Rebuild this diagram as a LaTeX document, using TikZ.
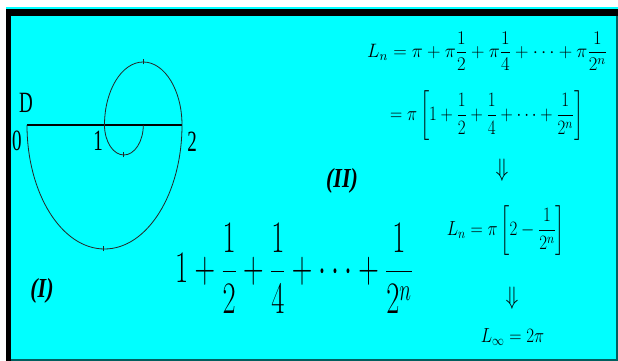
\RequirePackage{fix-cm}
\documentclass[tikz,border=0pt]{standalone}
\usepackage{fontspec}
\setmainfont{Liberation Serif}
\usepackage{amsmath}
\usepackage{tikz}
\usetikzlibrary{calc}

\definecolor{aqua}{RGB}{0,255,255}
\definecolor{edge}{RGB}{0,95,95}

\tikzset{
    lbl/.style={font=\fontsize{19}{19}\selectfont, inner sep=0pt, yscale=1.55, transform shape},
    tag/.style={font=\fontsize{22}{22}\selectfont\bfseries\itshape, inner sep=0pt, yscale=1.25, transform shape},
    eq/.style={font=\fontsize{17}{17}\selectfont, inner sep=0pt, yscale=1.2, transform shape},
    series/.style={font=\fontsize{28.5}{28.5}\selectfont, inner sep=0pt, yscale=1.58, transform shape},
}

\begin{document}
\begin{tikzpicture}[x=1pt, y=1pt]
    \fill[white] (0,0) rectangle (618,361);
    \fill[aqua] (6,0) rectangle (618,354);
    \fill[black] (6,345) rectangle (618,352);
    \fill[black] (6,0) rectangle (11,352);
    \draw[edge, line width=1.5pt] (11,1) -- (617,1) -- (617,345);

    \draw[line width=1.2pt] (27,236) coordinate(zero) -- (182,236) coordinate(two);
    \draw[black!85, line width=0.8pt] (zero)
	arc[start angle=180, end angle=360, x radius=77.5, y radius=124]
	arc[start angle=0, end angle=180, x radius=38.75, y radius=63]
	arc[start angle=180, end angle=360, x radius=19.4, y radius=30];
    \foreach \x/\y in {103/112, 143/299, 123/206}
	\draw[black!85, line width=0.8pt] (\x,\y-2.5) -- (\x,\y+2.5);

    \node[lbl] (d) at (26,258) {D};
    \node[lbl] (n0) at (17,220) {0};
    \node[lbl] (n1) at (98,220) {1};
    \node[lbl] (n2) at (192,219) {2};

    \node[tag] (t2) at (342,180) {(II)};
    \node[tag] (t1) at (42,70) {(I)};

    \node[series] (sum) at (294,92.5) {$\displaystyle 1+\frac{1}{2}+\frac{1}{4}+\cdots+\frac{1}{2^n}$};

    \node[eq, anchor=west, xscale=1.1, yscale=0.95] (ln) at (367,310) {$\displaystyle L_n = \pi + \pi\frac{1}{2} + \pi\frac{1}{4} + \cdots + \pi\frac{1}{2^n}$};
    \node[eq, anchor=west] (lnb) at (390,245.5) {$\displaystyle = \pi\left[1 + \frac{1}{2} + \frac{1}{4} + \cdots + \frac{1}{2^n}\right]$};
    \node[eq, font=\fontsize{21}{21}\selectfont] (arra) at (502,191) {$\Downarrow$};
    \node[eq] (lnc) at (506,130.5) {$\displaystyle L_n = \pi\left[2 - \frac{1}{2^n}\right]$};
    \node[eq, font=\fontsize{21}{21}\selectfont] (arrb) at (512,63) {$\Downarrow$};
    \node[eq] (linf) at (512.5,23.5) {$L_\infty = 2\pi$};
\end{tikzpicture}
\end{document}
